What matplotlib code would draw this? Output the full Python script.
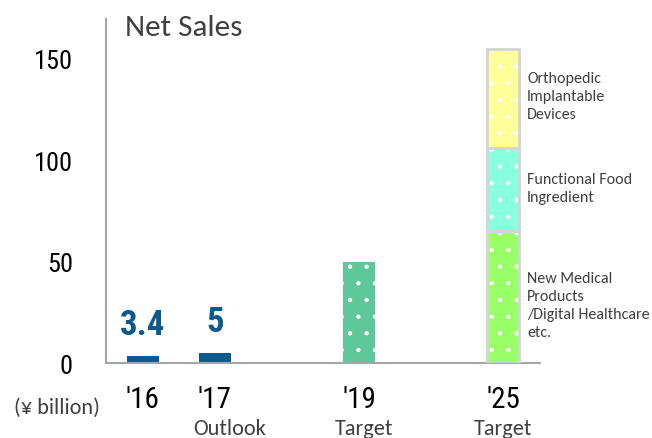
import matplotlib
matplotlib.use("Agg")
import matplotlib.pyplot as plt
from matplotlib import font_manager

# Net sales (¥ billion)
years = ["'16", "'17", "'19", "'25"]
notes = ["", "Outlook", "Target", "Target"]
sales = [3.4, 5, 50]

# 2025 target broken down by business
segments = ["New Medical\nProducts\n/Digital Healthcare\netc.",
            "Functional Food\nIngredient",
            "Orthopedic\nImplantable\nDevices"]
segment_values = [65, 41, 49]

BLUE = "#0c5a8c"
TEAL = "#5fc89b"
segment_colors = ["#99ff66", "#88ffdd", "#ffff99"]
GRAY_TEXT = "#404040"
AXIS_GRAY = "#a6a6a6"


def pick_font(candidates):
    names = {f.name for f in font_manager.fontManager.ttflist}
    found = [c for c in candidates if c in names]
    return found + ["DejaVu Sans"]


num_font = pick_font(["Liberation Sans Narrow", "Arial Narrow",
                      "Roboto Condensed", "Liberation Sans"])
text_font = pick_font(["Carlito", "Lato"])

plt.rcParams["hatch.linewidth"] = 0.7

fig = plt.figure(figsize=(6.52, 4.39), dpi=100)
ax = fig.add_axes([0.1626, 0.1708, 0.6656, 0.7836])

xpos = [0, 1, 3, 5]
width = 0.44

# actual / outlook bars
bar_colors = [BLUE, BLUE, TEAL]
for x, v, c in zip(xpos[:3], sales, bar_colors):
    ax.bar(x, v, width=width, color=c, edgecolor="white", linewidth=0,
           hatch=".", zorder=2)

# value labels on the two blue bars
for x, v in zip(xpos[:2], sales[:2]):
    ax.annotate(f"{v:g}", xy=(x, v), xytext=(0, 11), textcoords="offset points",
                ha="center", va="bottom", fontsize=25, fontweight="bold",
                color=BLUE, family=num_font)

# stacked 2025 target, labels to the right of each block
label_nudge = [-4, 1, 1]
bottom = 0
for v, c, name, dy in zip(segment_values, segment_colors, segments, label_nudge):
    ax.bar(xpos[3], v, bottom=bottom, width=width, color=c, edgecolor="white",
           linewidth=0, hatch=".", zorder=2)
    ax.bar(xpos[3], v, bottom=bottom, width=width, fill=False,
           edgecolor="#d4d4d4", linewidth=2, zorder=3)
    ax.text(xpos[3] + 0.33, bottom + v / 2 + dy, name, ha="left", va="center",
            fontsize=11.5, color=GRAY_TEXT, family=text_font, linespacing=1.36)
    bottom += v

ax.set_xlim(-0.51, 5.51)
ax.set_ylim(0, 169.7)

ax.set_yticks([0, 50, 100, 150])
ax.set_yticklabels(["0", "50", "100", "150"], family=num_font, fontsize=19)
ax.tick_params(axis="y", length=0, pad=24)
ax.set_xticks([])

trans = ax.get_xaxis_transform()
note_shift = [0, 0.2, 0.07, 0]
for x, yr, note, dx in zip(xpos, years, notes, note_shift):
    ax.text(x, -0.105, yr, transform=trans, ha="center", va="center",
            fontsize=21, family=num_font, color="black")
    if note:
        ax.text(x + dx, -0.19, note, transform=trans, ha="center", va="center",
                fontsize=16, family=text_font, color=GRAY_TEXT)

ax.text(-0.113, -0.128, "(¥ billion)", transform=ax.transAxes, ha="center",
        va="center", fontsize=16, family=text_font + ["Noto Sans CJK JP"],
        color=GRAY_TEXT)

ax.text(0.044, 0.978, "Net Sales", transform=ax.transAxes, ha="left",
        va="center", fontsize=22.5, family=text_font, color=GRAY_TEXT)

for side in ["top", "right"]:
    ax.spines[side].set_visible(False)
for side in ["left", "bottom"]:
    ax.spines[side].set_color(AXIS_GRAY)
    ax.spines[side].set_linewidth(1.5)

fig.savefig("out.png", dpi=100)
